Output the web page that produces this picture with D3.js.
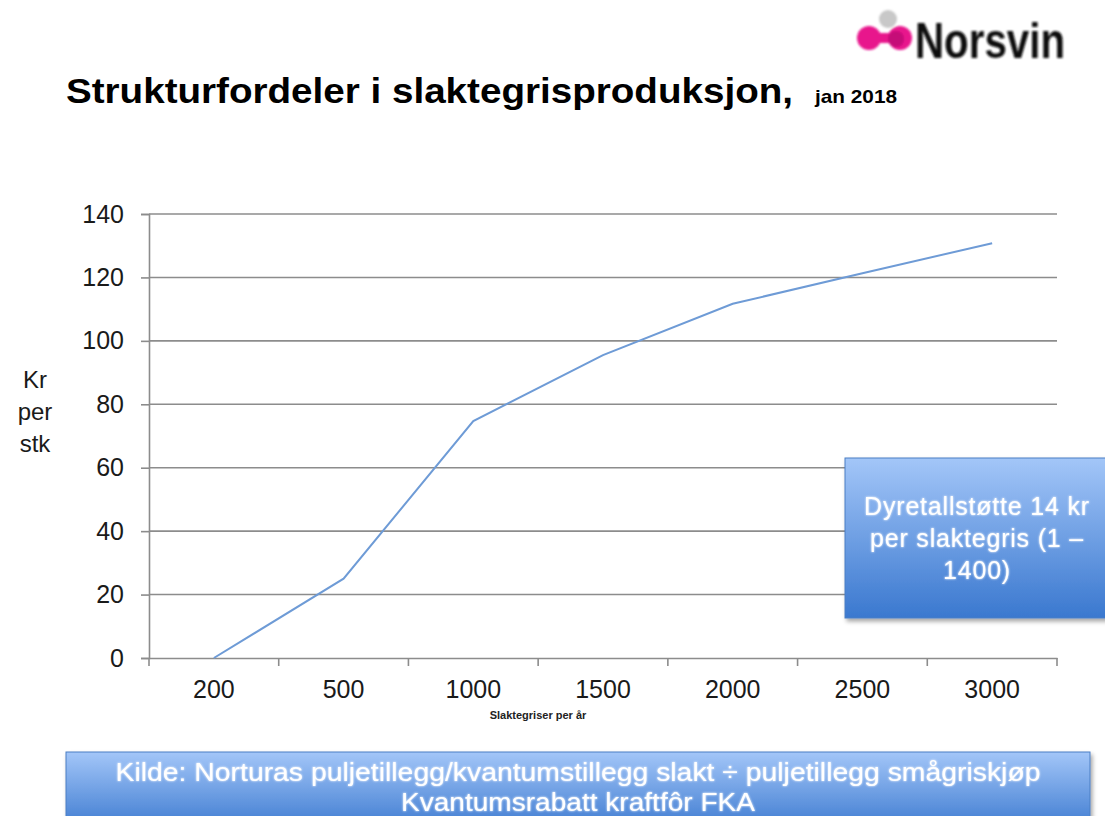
<!DOCTYPE html>
<html>
<head>
<meta charset="utf-8">
<script src="https://cdn.jsdelivr.net/npm/d3@7"></script>
<style>
  body { margin: 0; background: #fff; }
  svg { display: block; font-family: "Liberation Sans", Arial, sans-serif; }
</style>
</head>
<body>
<svg id="my_svg"></svg>
<script>
const categories = ["200", "500", "1000", "1500", "2000", "2500", "3000"];
const values = [0, 25, 74.7, 95.5, 111.7, 121.3, 130.8];
const yTicks = [0, 20, 40, 60, 80, 100, 120, 140];

const width = 1105, height = 816;
const svg = d3.select('#my_svg').attr('width', width).attr('height', height);

const defs = svg.append('defs');
const grad = defs.append('linearGradient').attr('id', 'boxGrad')
    .attr('x1', 0).attr('y1', 0).attr('x2', 0).attr('y2', 1);
grad.append('stop').attr('offset', '0%').attr('stop-color', '#a3c6f8');
grad.append('stop').attr('offset', '100%').attr('stop-color', '#3a78cf');
const glow = defs.append('filter').attr('id', 'glow');
glow.append('feGaussianBlur').attr('stdDeviation', 1.2).attr('result', 'b');
const fm = glow.append('feMerge');
fm.append('feMergeNode').attr('in', 'b');
fm.append('feMergeNode').attr('in', 'SourceGraphic');
const shadow = defs.append('filter').attr('id', 'shadow')
    .attr('x', '-5%').attr('y', '-5%').attr('width', '115%').attr('height', '130%');
shadow.append('feDropShadow').attr('dx', 2).attr('dy', 3).attr('stdDeviation', 2)
    .attr('flood-color', '#000').attr('flood-opacity', 0.35);
const soft = defs.append('filter').attr('id', 'soft');
soft.append('feGaussianBlur').attr('stdDeviation', 1);

// logo
const logo = svg.append('g').attr('filter', 'url(#soft)');
logo.append('circle').attr('cx', 888).attr('cy', 19).attr('r', 9).attr('fill', '#c8c8c8');
logo.append('rect').attr('x', 868).attr('y', 33).attr('width', 32).attr('height', 10).attr('fill', '#e8128c');
logo.append('circle').attr('cx', 869).attr('cy', 38).attr('r', 12).attr('fill', '#e8128c');
logo.append('circle').attr('cx', 900).attr('cy', 38).attr('r', 12).attr('fill', '#e8128c');
logo.append('circle').attr('cx', 896).attr('cy', 39).attr('r', 8).attr('fill', '#c50c78');
logo.append('text').attr('x', 915).attr('y', 58)
    .attr('font-size', 50).attr('font-weight', 'bold').attr('fill', '#111')
    .attr('textLength', 150).attr('lengthAdjust', 'spacingAndGlyphs')
    .text('Norsvin');

// title
svg.append('text').attr('x', 66).attr('y', 103)
    .attr('font-size', 35).attr('font-weight', 'bold').attr('fill', '#000')
    .attr('textLength', 727).attr('lengthAdjust', 'spacingAndGlyphs')
    .text('Strukturfordeler i slaktegrisproduksjon,');
svg.append('text').attr('x', 815).attr('y', 103)
    .attr('font-size', 19).attr('font-weight', 'bold').attr('fill', '#000')
    .attr('textLength', 82).attr('lengthAdjust', 'spacingAndGlyphs')
    .text('jan 2018');

// chart
const x = d3.scaleBand().domain(categories).range([149, 1057]);
const y = d3.scaleLinear().domain([0, 140]).range([658, 214]);

svg.append('g').selectAll('line').data(yTicks.slice(1)).join('line')
    .attr('x1', 149).attr('x2', 1057)
    .attr('y1', d => y(d)).attr('y2', d => y(d))
    .attr('stroke', '#8c8c8c').attr('stroke-width', 1.6);

const yAxis = svg.append('g').attr('transform', 'translate(149,0)')
    .call(d3.axisLeft(y).tickValues(yTicks).tickSize(8).tickPadding(17));
const xAxis = svg.append('g').attr('transform', 'translate(0,658)')
    .call(d3.axisBottom(x).tickSize(0).tickPadding(22));
[yAxis, xAxis].forEach(a => {
    a.select('.domain').attr('stroke', '#8c8c8c').attr('stroke-width', 1.6);
    a.selectAll('.tick line').attr('stroke', '#8c8c8c').attr('stroke-width', 1.6);
    a.selectAll('text').attr('font-size', 25).attr('fill', '#1a1a1a')
        .attr('font-family', '"Liberation Sans", Arial, sans-serif');
});
xAxis.selectAll('.tick line').remove();
xAxis.selectAll('.bnd').data(categories.concat(['end'])).join('line')
    .attr('x1', (d, i) => 149 + i * x.step()).attr('x2', (d, i) => 149 + i * x.step())
    .attr('y1', 0).attr('y2', 8)
    .attr('stroke', '#8c8c8c').attr('stroke-width', 1.6);

svg.append('text').attr('x', 538).attr('y', 719).attr('text-anchor', 'middle')
    .attr('font-size', 11).attr('font-weight', 'bold').attr('fill', '#222')
    .text('Slaktegriser per år');

svg.append('text').attr('x', 35).attr('text-anchor', 'middle')
    .attr('font-size', 24).attr('fill', '#1a1a1a')
    .selectAll('tspan').data(['Kr', 'per', 'stk']).join('tspan')
    .attr('x', 35).attr('y', (d, i) => 388 + i * 32).text(d => d);

const line = d3.line().x((d, i) => x(categories[i]) + x.bandwidth() / 2).y(d => y(d));
svg.append('path').datum(values).attr('d', line)
    .attr('fill', 'none').attr('stroke', '#6e9bd6').attr('stroke-width', 2);

// callout box
svg.append('rect').attr('x', 845).attr('y', 458).attr('width', 270).attr('height', 160)
    .attr('fill', 'url(#boxGrad)').attr('stroke', '#4a7fc4').attr('stroke-width', 1)
    .attr('filter', 'url(#shadow)');
svg.append('g').attr('filter', 'url(#glow)')
    .selectAll('text').data(['Dyretallstøtte 14 kr', 'per slaktegris (1 –', '1400)']).join('text')
    .attr('x', 977).attr('y', (d, i) => 515 + i * 32).attr('text-anchor', 'middle')
    .attr('font-size', 25).attr('letter-spacing', 0.8).attr('fill', '#fff')
    .text(d => d);

// source box
svg.append('rect').attr('x', 66).attr('y', 752).attr('width', 1024).attr('height', 80)
    .attr('fill', 'url(#boxGrad)').attr('stroke', '#4a7fc4').attr('stroke-width', 1)
    .attr('filter', 'url(#shadow)');
const src = [
    { t: 'Kilde: Norturas puljetillegg/kvantumstillegg slakt ÷ puljetillegg smågriskjøp', w: 925 },
    { t: 'Kvantumsrabatt kraftfôr FKA', w: 354 }
];
svg.append('g').attr('filter', 'url(#glow)')
    .selectAll('text').data(src).join('text')
    .attr('x', 578).attr('y', (d, i) => 781 + i * 30).attr('text-anchor', 'middle')
    .attr('font-size', 26).attr('fill', '#fff')
    .attr('textLength', d => d.w).attr('lengthAdjust', 'spacingAndGlyphs')
    .text(d => d.t);
</script>
</body>
</html>
